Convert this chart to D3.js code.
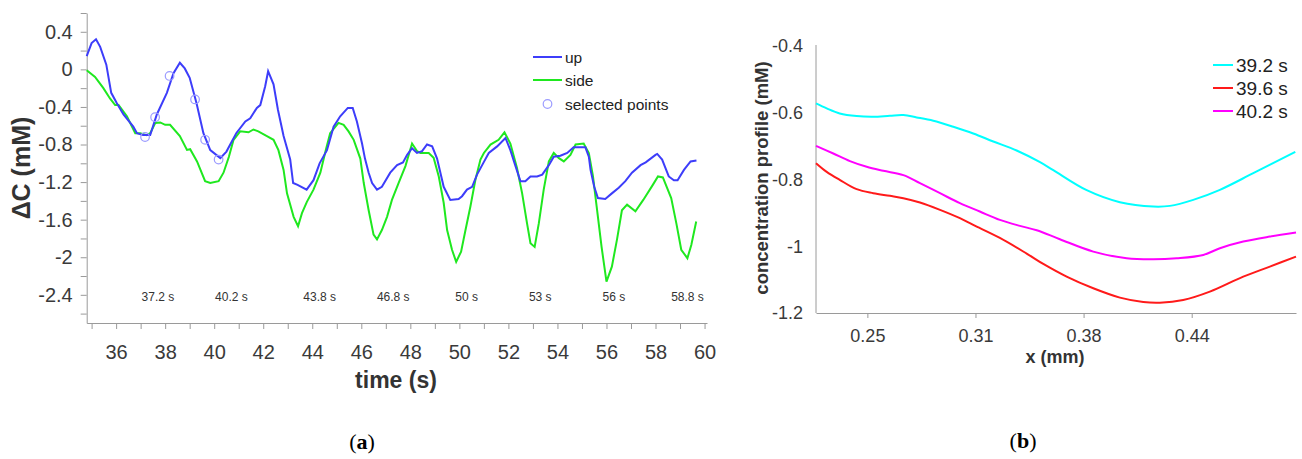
<!DOCTYPE html>
<html>
<head>
<meta charset="utf-8">
<script src="https://cdn.jsdelivr.net/npm/d3@7"></script>
<style>
  body { margin: 0; background: #fff; }
  text { font-family: "Liberation Sans", Arial, sans-serif; }
</style>
</head>
<body>
<svg id="chart"></svg>
<script>
// ---- panel (a): concentration change vs time ----
const upSeries = [
  [34.8,0.14],[35.0,0.28],[35.18,0.32],[35.35,0.24],[35.6,0.05],[35.8,-0.25],[36.03,-0.36],[36.3,-0.48],
  [36.7,-0.61],[36.85,-0.68],[37.1,-0.70],[37.39,-0.70],[37.66,-0.48],[38.07,-0.25],[38.34,-0.04],[38.6,0.07],
  [38.8,0.01],[39.0,-0.09],[39.28,-0.36],[39.56,-0.68],[39.84,-0.86],[40.25,-0.945],[40.5,-0.875],[40.9,-0.68],
  [41.27,-0.555],[41.47,-0.52],[41.74,-0.41],[41.88,-0.38],[42.08,-0.18],[42.2,-0.02],[42.42,-0.16],[42.6,-0.43],
  [42.83,-0.71],[43.1,-0.96],[43.22,-1.21],[43.4,-1.23],[43.77,-1.28],[44.05,-1.18],[44.3,-1.0],[44.6,-0.86],
  [44.87,-0.61],[45.14,-0.50],[45.45,-0.41],[45.65,-0.41],[45.82,-0.555],[46.03,-0.79],[46.15,-0.95],[46.3,-1.10],
  [46.44,-1.21],[46.64,-1.28],[46.84,-1.25],[47.18,-1.10],[47.46,-1.02],[47.7,-0.99],[47.87,-0.91],[48.07,-0.84],
  [48.27,-0.89],[48.48,-0.87],[48.68,-0.80],[48.89,-0.82],[49.09,-0.95],[49.36,-1.25],[49.63,-1.39],[49.97,-1.38],
  [50.11,-1.35],[50.31,-1.28],[50.52,-1.25],[50.72,-1.12],[50.99,-0.99],[51.2,-0.89],[51.54,-0.82],[51.88,-0.73],
  [52.08,-0.86],[52.29,-1.03],[52.49,-1.19],[52.69,-1.19],[52.9,-1.14],[53.17,-1.14],[53.38,-1.12],[53.65,-1.02],
  [53.85,-0.93],[54.12,-0.92],[54.4,-0.89],[54.66,-0.83],[55.14,-0.83],[55.28,-0.93],[55.35,-1.07],[55.5,-1.25],
  [55.65,-1.37],[55.95,-1.38],[56.22,-1.32],[56.5,-1.26],[56.77,-1.19],[57.04,-1.10],[57.39,-1.02],[57.6,-0.99],
  [58.0,-0.91],[58.07,-0.90],[58.27,-0.96],[58.54,-1.14],[58.75,-1.18],[58.9,-1.18],[59.16,-1.07],[59.43,-0.98],
  [59.67,-0.97]
];

const sideSeries = [
  [34.8,-0.01],[35.14,-0.08],[35.48,-0.20],[35.75,-0.31],[35.96,-0.38],[36.1,-0.38],[36.44,-0.50],[36.78,-0.68],
  [36.98,-0.68],[37.25,-0.70],[37.39,-0.68],[37.6,-0.57],[37.8,-0.565],[38.0,-0.59],[38.2,-0.59],[38.6,-0.71],
  [38.89,-0.857],[39.02,-0.85],[39.3,-0.98],[39.63,-1.19],[39.84,-1.21],[40.18,-1.19],[40.38,-1.10],[40.6,-0.93],
  [40.79,-0.75],[41.06,-0.66],[41.4,-0.67],[41.6,-0.64],[41.8,-0.66],[42.15,-0.71],[42.42,-0.75],[42.62,-0.86],
  [42.83,-1.07],[42.97,-1.32],[43.24,-1.57],[43.42,-1.67],[43.58,-1.53],[43.78,-1.41],[44.05,-1.28],[44.33,-1.10],
  [44.55,-0.86],[44.73,-0.68],[45.07,-0.57],[45.28,-0.59],[45.48,-0.66],[45.69,-0.75],[45.96,-0.95],[46.1,-1.21],
  [46.3,-1.50],[46.5,-1.76],[46.64,-1.81],[46.84,-1.71],[47.05,-1.57],[47.25,-1.39],[47.52,-1.21],[47.8,-1.03],
  [48.07,-0.79],[48.27,-0.87],[48.41,-0.89],[48.75,-0.89],[48.95,-0.94],[49.16,-1.14],[49.36,-1.42],[49.5,-1.71],
  [49.7,-1.92],[49.87,-2.05],[50.07,-1.94],[50.25,-1.71],[50.45,-1.46],[50.65,-1.18],[50.86,-0.96],[51.0,-0.89],
  [51.27,-0.80],[51.6,-0.75],[51.84,-0.67],[52.08,-0.79],[52.35,-1.05],[52.56,-1.32],[52.76,-1.64],[52.9,-1.85],
  [53.07,-1.89],[53.24,-1.64],[53.44,-1.28],[53.65,-0.98],[53.85,-0.89],[54.06,-0.945],[54.26,-0.98],[54.53,-0.91],
  [54.74,-0.80],[55.07,-0.79],[55.28,-0.89],[55.45,-1.14],[55.6,-1.46],[55.8,-1.89],[56.0,-2.26],[56.22,-2.10],
  [56.43,-1.81],[56.63,-1.50],[56.84,-1.44],[57.18,-1.51],[57.5,-1.39],[57.89,-1.23],[58.1,-1.14],[58.3,-1.15],
  [58.64,-1.37],[58.85,-1.64],[59.05,-1.92],[59.3,-2.01],[59.46,-1.87],[59.66,-1.62]
];

const selectedPoints = [[37.18,-0.72],[37.59,-0.51],[38.18,-0.07],[39.22,-0.32],[39.63,-0.75],[40.18,-0.96]];

const markTimes = [37.2, 40.2, 43.8, 46.8, 50, 53, 56, 58.8];
const markLabels = ["37.2 s", "40.2 s", "43.8 s", "46.8 s", "50 s", "53 s", "56 s", "58.8 s"];

const legendA = ["up", "side", "selected points"];

// ---- panel (b): concentration profiles ----
const profile392 = [
  [0.2203,-0.572],[0.2265,-0.587],[0.234,-0.602],[0.2438,-0.61],[0.2534,-0.612],[0.263,-0.609],[0.2708,-0.607],
  [0.2785,-0.614],[0.2881,-0.624],[0.2997,-0.642],[0.3112,-0.662],[0.3228,-0.686],[0.3363,-0.713],[0.3498,-0.748],
  [0.3575,-0.772],[0.3768,-0.832],[0.396,-0.868],[0.4153,-0.881],[0.4249,-0.879],[0.4384,-0.861],[0.4538,-0.831],
  [0.4731,-0.781],[0.4974,-0.717]
];
const profile396 = [
  [0.2203,-0.751],[0.2265,-0.777],[0.234,-0.801],[0.2438,-0.829],[0.2534,-0.841],[0.263,-0.849],[0.2708,-0.856],
  [0.2804,-0.869],[0.292,-0.891],[0.3035,-0.916],[0.3112,-0.936],[0.3266,-0.975],[0.3421,-1.022],[0.3517,-1.053],
  [0.3652,-1.091],[0.3806,-1.126],[0.396,-1.154],[0.4095,-1.167],[0.4191,-1.169],[0.4326,-1.161],[0.448,-1.136],
  [0.4673,-1.091],[0.4827,-1.061],[0.4978,-1.031]
];
const profile402 = [
  [0.2203,-0.699],[0.2303,-0.722],[0.2399,-0.745],[0.2496,-0.762],[0.2592,-0.774],[0.2708,-0.787],[0.2804,-0.811],
  [0.292,-0.841],[0.3035,-0.871],[0.315,-0.896],[0.3266,-0.921],[0.3382,-0.939],[0.3479,-0.952],[0.3613,-0.979],
  [0.3806,-1.016],[0.3999,-1.036],[0.4153,-1.039],[0.4288,-1.036],[0.4442,-1.026],[0.4538,-1.006],[0.4673,-0.986],
  [0.4827,-0.971],[0.4978,-0.959]
];
const profileNames = ["39.2 s", "39.6 s", "40.2 s"];
const profileColors = ["#00ffff", "#ff1a1a", "#ff00ff"];

const yTicksA = d3.range(-13, 4).map(i => +(i * 0.2).toFixed(1));
const xTicksA = d3.range(35, 61);
const yTicksB = [-1.2, -1, -0.8, -0.6, -0.4];
const xTicksB = [0.25, 0.3125, 0.375, 0.4375];
const xTickLabelsB = ["0.25", "0.31", "0.38", "0.44"];

const width = 1302, height = 459;
const svg = d3.select("#chart").attr("width", width).attr("height", height);
svg.append("rect").attr("width", width).attr("height", height).attr("fill", "#fff");

drawPanelA();
drawPanelB();

function styleAxis(g, fontSize) {
  g.select(".domain").attr("stroke", "#9a9a9a");
  g.selectAll(".tick line").attr("stroke", "#9a9a9a");
  g.selectAll(".tick text").attr("fill", "#3a3a3a").style("font-size", fontSize + "px")
    .style("font-family", "'Liberation Sans', Arial, sans-serif");
}

function drawPanelA() {
  const x = d3.scaleLinear().domain([34.8, 60.1]).range([86.7, 707]);
  const y = d3.scaleLinear().domain([-2.7, 0.6]).range([323, 13]);

  const gy = svg.append("g").attr("transform", "translate(86.7,0)")
    .call(d3.axisLeft(y).tickValues(yTicksA).tickSize(6).tickSizeOuter(0).tickPadding(8)
      .tickFormat(d => Math.round(d * 10) % 4 === 0 ? String(d) : ""));
  styleAxis(gy, 20);

  const gx = svg.append("g").attr("transform", "translate(0,323)")
    .call(d3.axisBottom(x).tickValues(xTicksA).tickSize(6).tickSizeOuter(0)
      .tickFormat(d => d % 2 === 0 ? String(d) : ""));
  styleAxis(gx, 20);
  gx.selectAll(".tick text").attr("y", 22);

  const line = d3.line().x(d => x(d[0])).y(d => y(d[1]));

  svg.append("path").datum(sideSeries)
    .attr("fill", "none").attr("stroke", "#1fe81f").attr("stroke-width", 2).attr("d", line);
  svg.append("path").datum(upSeries)
    .attr("fill", "none").attr("stroke", "#3d3dfa").attr("stroke-width", 2).attr("d", line);

  svg.selectAll(".sel").data(selectedPoints).enter().append("circle")
    .attr("cx", d => x(d[0])).attr("cy", d => y(d[1])).attr("r", 4.3)
    .attr("fill", "none").attr("stroke", "#9c9cff").attr("stroke-width", 1.2);

  svg.selectAll(".mark").data(markTimes).enter().append("text")
    .attr("x", d => x(d) - 4).attr("y", 301)
    .text((d, i) => markLabels[i])
    .style("font-size", "12px").attr("fill", "#333");

  // legend
  const lg = svg.append("g").attr("transform", "translate(533,57)");
  lg.append("line").attr("x1", 0).attr("x2", 29).attr("y1", 0).attr("y2", 0)
    .attr("stroke", "#3d3dfa").attr("stroke-width", 2);
  lg.append("line").attr("x1", 0).attr("x2", 29).attr("y1", 23).attr("y2", 23)
    .attr("stroke", "#1fe81f").attr("stroke-width", 2);
  lg.append("circle").attr("cx", 14.5).attr("cy", 47).attr("r", 4.3)
    .attr("fill", "none").attr("stroke", "#9c9cff").attr("stroke-width", 1.2);
  lg.selectAll(".lt").data(legendA).enter().append("text")
    .attr("x", 32).attr("y", (d, i) => i * 23.5 + 5.5)
    .text(d => d).style("font-size", "15.5px").attr("fill", "#222");

  svg.append("text").attr("transform", "translate(30,168) rotate(-90)")
    .attr("text-anchor", "middle").style("font-size", "25px").style("font-weight", "bold")
    .attr("fill", "#333").text("\u0394C (mM)");

  svg.append("text").attr("x", 396).attr("y", 388).attr("text-anchor", "middle")
    .style("font-size", "23px").style("font-weight", "bold").attr("fill", "#333").text("time (s)");

  const ta = svg.append("text").attr("x", 362).attr("y", 449).attr("text-anchor", "middle")
    .style("font-family", "'Liberation Serif', 'DejaVu Serif', serif").style("font-size", "22px").attr("fill", "#000");
  ta.append("tspan").text("(");
  ta.append("tspan").style("font-weight", "bold").text("a");
  ta.append("tspan").text(")");
}

function drawPanelB() {
  const x = d3.scaleLinear().domain([0.2203, 0.4978]).range([816, 1296]);
  const y = d3.scaleLinear().domain([-1.2, -0.4]).range([313, 46]);

  const gy = svg.append("g").attr("transform", "translate(816,0)")
    .call(d3.axisLeft(y).tickValues(yTicksB).tickSize(0).tickSizeOuter(0).tickPadding(13)
      .tickFormat(d => String(d)));
  styleAxis(gy, 18);
  gy.select(".domain").attr("d", "M0,45V313");

  const gx = svg.append("g").attr("transform", "translate(0,313)")
    .call(d3.axisBottom(x).tickValues(xTicksB).tickSize(5).tickSizeOuter(0)
      .tickFormat((d, i) => xTickLabelsB[i]));
  styleAxis(gx, 18);
  gx.selectAll(".tick text").attr("y", 16);

  const line = d3.line().x(d => x(d[0])).y(d => y(d[1])).curve(d3.curveCatmullRom);
  [profile392, profile396, profile402].forEach((s, i) => {
    svg.append("path").datum(s).attr("fill", "none")
      .attr("stroke", profileColors[i]).attr("stroke-width", 2).attr("d", line);
  });

  const lg = svg.append("g").attr("transform", "translate(1213,65)");
  profileNames.forEach((n, i) => {
    lg.append("line").attr("x1", 0).attr("x2", 20).attr("y1", i * 23).attr("y2", i * 23)
      .attr("stroke", profileColors[i]).attr("stroke-width", 2);
    lg.append("text").attr("x", 23).attr("y", i * 23 + 7).text(n)
      .style("font-size", "19px").attr("fill", "#222");
  });

  svg.append("text").attr("transform", "translate(768,178) rotate(-90)")
    .attr("text-anchor", "middle").style("font-size", "18.5px").style("font-weight", "bold")
    .attr("fill", "#333").text("concentration profile (mM)");

  svg.append("text").attr("x", 1055).attr("y", 363).attr("text-anchor", "middle")
    .style("font-size", "18px").style("font-weight", "bold").attr("fill", "#333").text("x (mm)");

  const tb = svg.append("text").attr("x", 1023).attr("y", 448).attr("text-anchor", "middle")
    .style("font-family", "'Liberation Serif', 'DejaVu Serif', serif").style("font-size", "22px").attr("fill", "#000");
  tb.append("tspan").text("(");
  tb.append("tspan").style("font-weight", "bold").text("b");
  tb.append("tspan").text(")");
}
</script>
</body>
</html>
